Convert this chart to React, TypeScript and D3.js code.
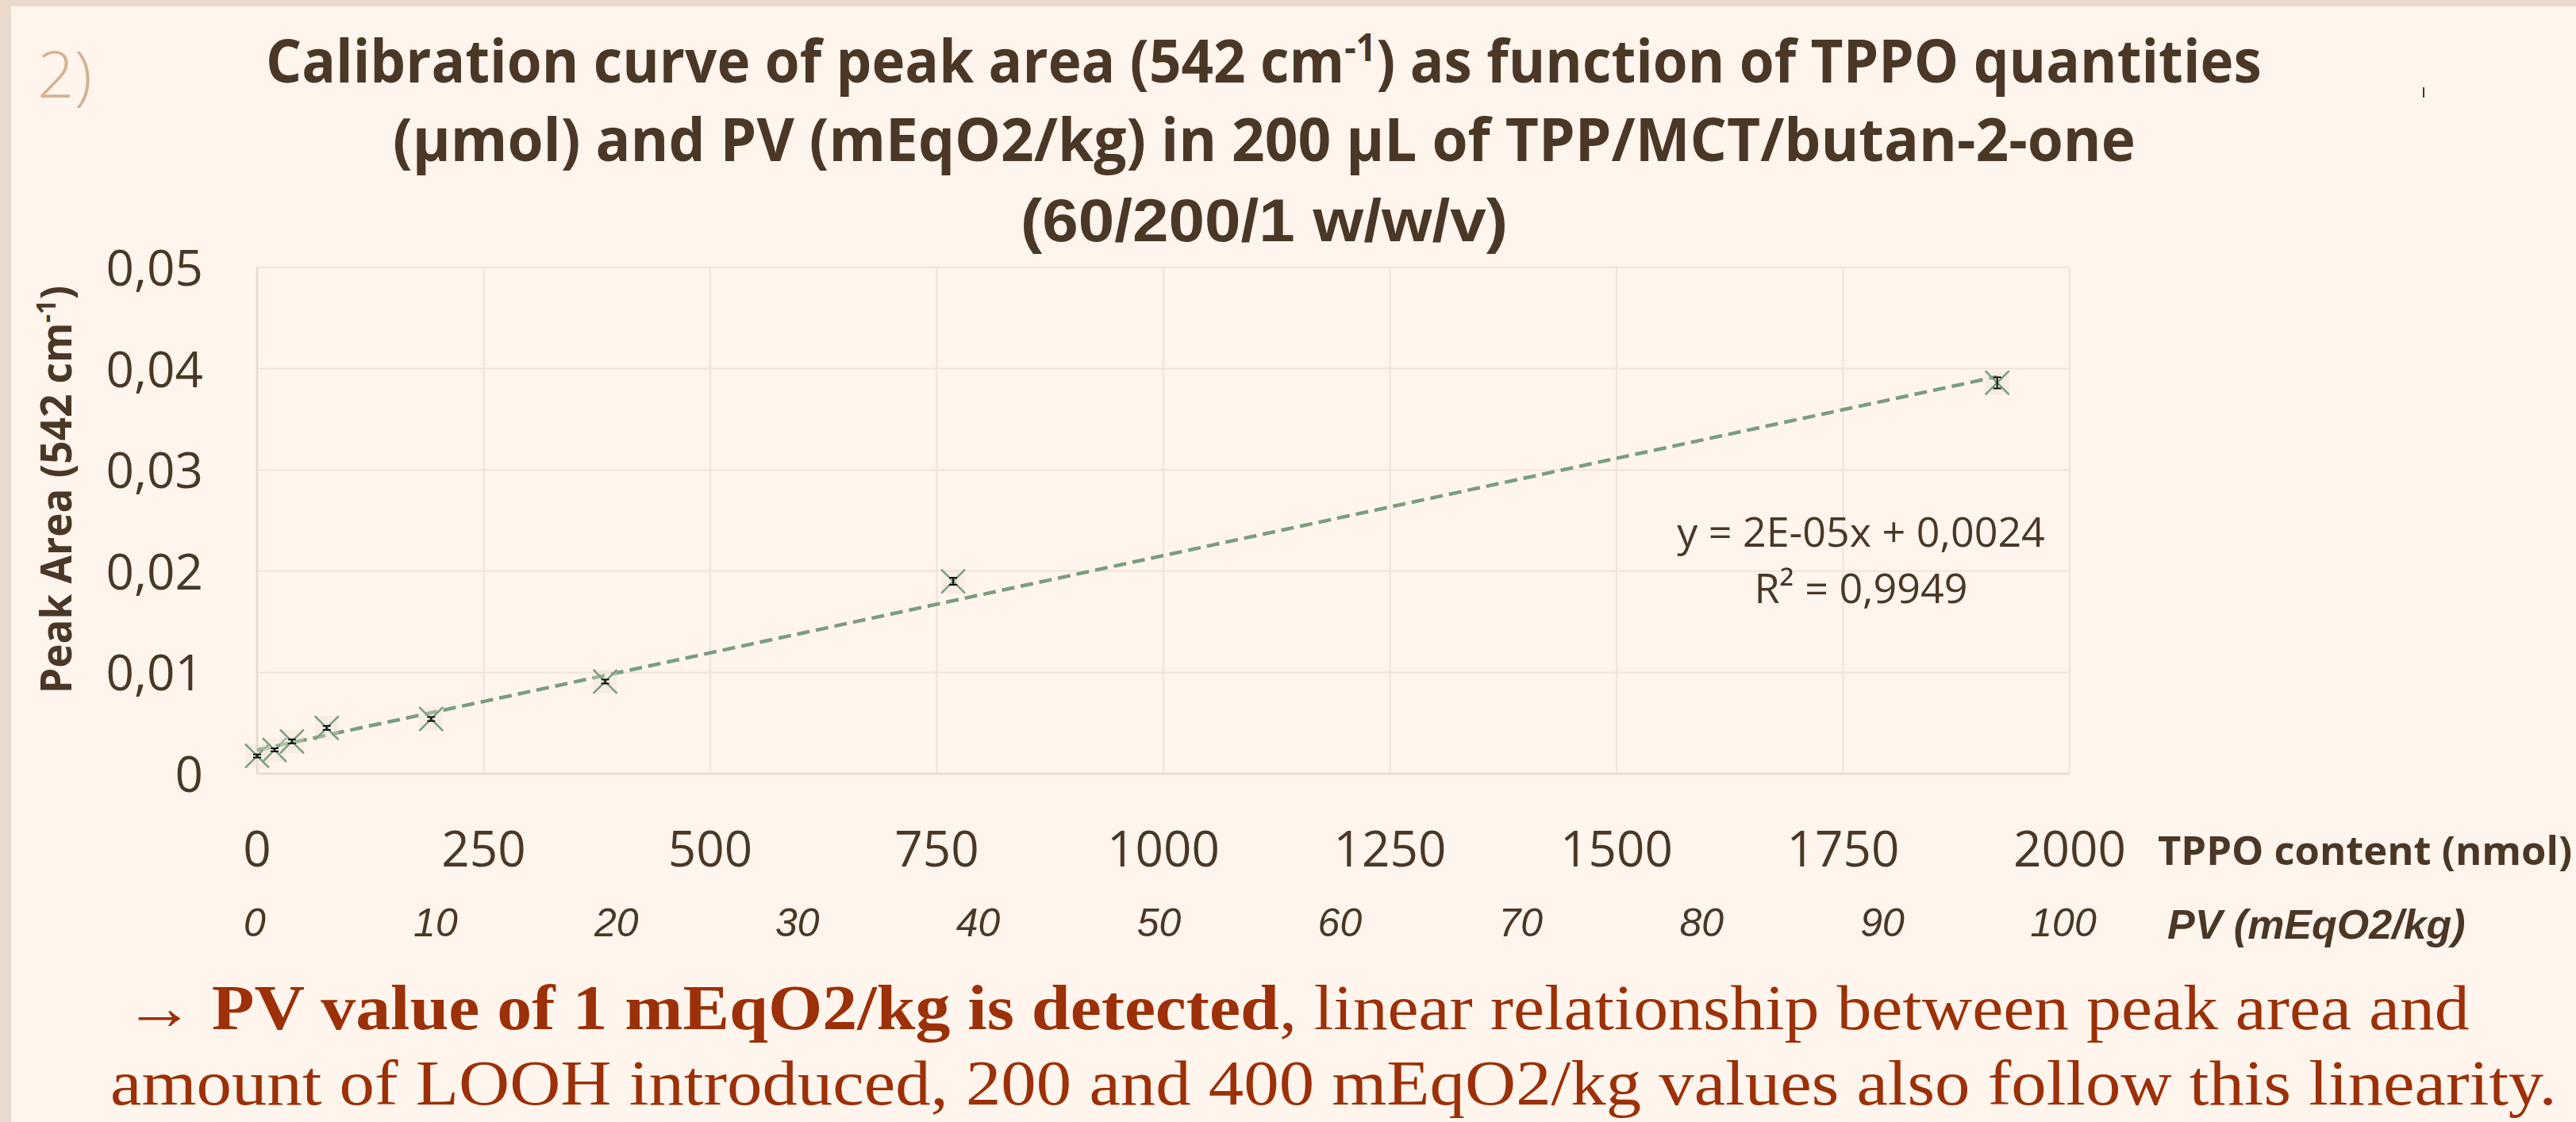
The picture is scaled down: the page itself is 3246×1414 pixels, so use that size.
import React, { useLayoutEffect, useRef, useState } from "react";
import * as d3 from "d3";

// ---- data ----
const tppoNmol = [0, 19.2, 38.4, 76.8, 192, 384, 768, 1920];
const peakArea = [0.00175, 0.00235, 0.00319, 0.00452, 0.0054, 0.0091, 0.019, 0.0386];
const peakAreaErr = [0.00015, 0.00015, 0.0002, 0.0002, 0.0002, 0.0002, 0.00035, 0.00055];
const xTickValues = [0, 250, 500, 750, 1000, 1250, 1500, 1750, 2000];
const yTickValues = [0, 0.01, 0.02, 0.03, 0.04, 0.05];
const pvTickValues = [0, 10, 20, 30, 40, 50, 60, 70, 80, 90, 100];
const equationLines = ["y = 2E-05x + 0,0024", "R\u00B2 = 0,9949"];

const W = 3246;
const H = 1414;
const BROWN = "#4a3726";
const GREEN = "#7a9e7e";
const RED = "#9c3008";
const GRID = "#eee4db";

const SANS = "'Open Sans', 'Noto Sans', sans-serif";
const ARIAL = "'Liberation Sans', Arial, sans-serif";
const SERIF = "'Liberation Serif', 'Times New Roman', serif";

// Text squeezed horizontally (by a measured scale) to a target width.
function FitText(props: any) {
  const { x, y, width, children, ...rest } = props;
  const ref = useRef<SVGTextElement>(null);
  const [sx, setSx] = useState(1);
  useLayoutEffect(() => {
    const measure = () => {
      const el = ref.current;
      if (!el) return;
      const w = el.getBBox().width;
      if (w > 0) setSx(width / w);
    };
    measure();
    const f = (document as any).fonts;
    if (f && f.ready) f.ready.then(measure);
  }, [width]);
  return (
    <g transform={`translate(${x},${y}) scale(${sx},1)`}>
      <text ref={ref} x={0} y={0} {...rest}>
        {children}
      </text>
    </g>
  );
}

export default function App() {
  const x = d3.scaleLinear().domain([0, 2000]).range([324, 2608]);
  const y = d3.scaleLinear().domain([0, 0.05]).range([975, 337]);
  const pv = d3.scaleLinear().domain([0, 100]).range([321, 2600]);

  // least-squares trend line
  const mx = d3.mean(tppoNmol) as number;
  const my = d3.mean(peakArea) as number;
  const sxy = d3.sum(tppoNmol.map((v, i) => (v - mx) * (peakArea[i] - my)));
  const sxx = d3.sum(tppoNmol.map((v) => (v - mx) * (v - mx)));
  const slope = sxy / sxx;
  const intercept = my - slope * mx;
  const xMax = d3.max(tppoNmol) as number;
  const trend = d3.line<number>().x((v) => x(v)).y((v) => y(intercept + slope * v))([0, xMax]) || "";

  const fmtY = (v: number) => (v === 0 ? "0" : d3.format(".2f")(v).replace(".", ","));

  return (
    <div style={{ position: "absolute", left: 0, top: 0, width: W, height: H, overflow: "hidden" }}>
      <svg width={W} height={H} style={{ display: "block" }}>
        {/* background + border */}
        <rect x={0} y={0} width={W} height={H} fill="#ebdbcf" />
        <rect x={14} y={8} width={W - 14} height={H - 8} fill="#fff5ec" />

        {/* "2)" */}
        <text x={47} y={123} fontFamily={SANS} fontWeight={300} fontSize={82} fill="#d5b292">2)</text>
        <line x1={3054} x2={3054} y1={110} y2={123} stroke={BROWN} strokeWidth={2} />

        {/* title */}
        <FitText x={335} y={104} width={2515} fontFamily={SANS} fontWeight={700} fontSize={76} fill={BROWN}>
          Calibration curve of peak area (542 cm<tspan dy={-27} fontSize={48}>-1</tspan>
          <tspan dy={27}>) as function of TPPO quantities</tspan>
        </FitText>
        <FitText x={495} y={203} width={2196} fontFamily={SANS} fontWeight={700} fontSize={76} fill={BROWN}>
          (µmol) and PV (mEqO2/kg) in 200 µL of TPP/MCT/butan-2-one
        </FitText>
        <FitText x={1286} y={304} width={614} fontFamily={ARIAL} fontWeight={700} fontSize={76} fill={BROWN}>
          (60/200/1 w/w/v)
        </FitText>

        {/* grid */}
        {xTickValues.map((t) => (
          <line key={"gx" + t} x1={x(t)} x2={x(t)} y1={y(0.05)} y2={y(0)} stroke={GRID} strokeWidth={2} />
        ))}
        {yTickValues.map((t) => (
          <line key={"gy" + t} x1={x(0)} x2={x(2000)} y1={y(t)} y2={y(t)} stroke={GRID} strokeWidth={2} />
        ))}
        <line x1={x(0)} x2={x(2000)} y1={y(0)} y2={y(0)} stroke="#e6d8cc" strokeWidth={2.5} />
        <line x1={x(0)} x2={x(0)} y1={y(0.05)} y2={y(0)} stroke="#e6d8cc" strokeWidth={2.5} />

        {/* y tick labels */}
        {yTickValues.map((t) => (
          <text key={"yl" + t} x={256} y={y(t)} dy={23} textAnchor="end" fontFamily={SANS} fontWeight={400}
            fontSize={62} fill={BROWN}>{fmtY(t)}</text>
        ))}
        {/* x tick labels */}
        {xTickValues.map((t) => (
          <text key={"xl" + t} x={x(t)} y={1092} textAnchor="middle" fontFamily={SANS} fontWeight={400}
            fontSize={62} fill={BROWN}>{t}</text>
        ))}
        {/* PV labels */}
        {pvTickValues.map((t) => (
          <text key={"pv" + t} x={pv(t)} y={1180} textAnchor="middle" fontFamily={ARIAL} fontStyle="italic"
            fontSize={50} fill={BROWN}>{t}</text>
        ))}

        {/* axis titles */}
        <FitText x={2719} y={1090} width={522} fontFamily={SANS} fontWeight={700} fontSize={50} fill={BROWN}>
          TPPO content (nmol)
        </FitText>
        <text x={2731} y={1183} fontFamily={ARIAL} fontWeight={700} fontStyle="italic" fontSize={52} fill={BROWN}>
          PV (mEqO2/kg)
        </text>
        <g transform="translate(90,617) rotate(-90)">
          <FitText x={-257} y={0} width={514} fontFamily={SANS} fontWeight={700} fontSize={53} fill={BROWN}>
            Peak Area (542 cm<tspan dy={-20} fontSize={34}>-1</tspan><tspan dy={20}>)</tspan>
          </FitText>
        </g>

        {/* trend line */}
        <path d={trend} fill="none" stroke={GREEN} strokeWidth={4.5} strokeDasharray="16 8" />

        {/* points */}
        {tppoNmol.map((v, i) => {
          const cx = x(v);
          const cy = y(peakArea[i]);
          const e1 = y(peakArea[i] + peakAreaErr[i]);
          const e2 = y(peakArea[i] - peakAreaErr[i]);
          return (
            <g key={"p" + i}>
              <rect x={cx - 15} y={cy - 15} width={30} height={30} fill="#e9dfd4" opacity={0.35} />
              <line x1={cx - 15} y1={cy - 15} x2={cx + 15} y2={cy + 15} stroke={GREEN} strokeWidth={2.5} />
              <line x1={cx - 15} y1={cy + 15} x2={cx + 15} y2={cy - 15} stroke={GREEN} strokeWidth={2.5} />
              <line x1={cx} x2={cx} y1={e1} y2={e2} stroke="#111" strokeWidth={2} />
              <line x1={cx - 5} x2={cx + 5} y1={e1} y2={e1} stroke="#111" strokeWidth={2} />
              <line x1={cx - 5} x2={cx + 5} y1={e2} y2={e2} stroke="#111" strokeWidth={2} />
            </g>
          );
        })}

        {/* equation */}
        {equationLines.map((s, i) => (
          <text key={"eq" + i} x={2345} y={689 + i * 71} textAnchor="middle" fontFamily={SANS} fontWeight={400}
            fontSize={52} fill={BROWN}>{s}</text>
        ))}

        {/* conclusion text */}
        <FitText x={157} y={1297} width={2955} fontFamily={SERIF} fontSize={80} fill={RED}>
          <tspan fontWeight={700}>→ PV value of 1 mEqO2/kg is detected</tspan>
          <tspan>, linear relationship between peak area and</tspan>
        </FitText>
        <FitText x={139} y={1392} width={3083} fontFamily={SERIF} fontSize={80} fill={RED}>
          amount of LOOH introduced, 200 and 400 mEqO2/kg values also follow this linearity.
        </FitText>
      </svg>
    </div>
  );
}
